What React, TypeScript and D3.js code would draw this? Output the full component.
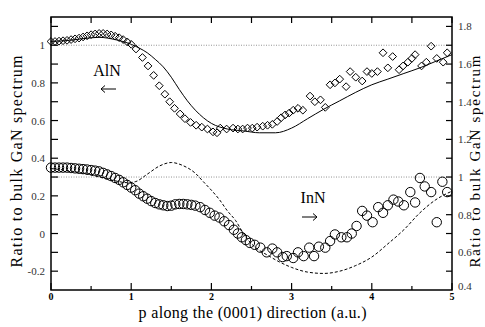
import * as d3 from 'd3';
import { useEffect, useRef } from 'react';

// AlN: measured ratio (diamonds), left axis
const alnP = [0, 0.05, 0.1, 0.15, 0.2, 0.25, 0.3, 0.35, 0.4, 0.45, 0.5, 0.55, 0.6, 0.65, 0.7, 0.75, 0.8, 0.85, 0.9, 0.95, 1.0,
  1.06, 1.14, 1.21, 1.28, 1.35, 1.42, 1.48, 1.54, 1.61, 1.67, 1.74, 1.81, 1.88, 1.95, 2.02, 2.07, 2.11, 2.19, 2.27, 2.33,
  2.39, 2.45, 2.51, 2.57, 2.64, 2.7, 2.76, 2.82, 2.87, 2.92, 2.97, 3.02, 3.08, 3.14, 3.23, 3.29, 3.36, 3.42, 3.48, 3.54,
  3.6, 3.68, 3.73, 3.8, 3.88, 3.94, 4.0, 4.07, 4.14, 4.2, 4.26, 4.34, 4.39, 4.45, 4.5, 4.54, 4.62, 4.68, 4.74, 4.81, 4.89, 4.94];
const alnRatio = [1.02, 1.02, 1.022, 1.024, 1.026, 1.03, 1.034, 1.038, 1.044, 1.05, 1.056, 1.06, 1.063, 1.063, 1.06, 1.055,
  1.048, 1.04, 1.03, 1.018, 1.005, 0.98, 0.935, 0.89, 0.84, 0.785, 0.74, 0.7, 0.665, 0.635, 0.61, 0.59, 0.575, 0.565, 0.555,
  0.54, 0.535, 0.56, 0.555, 0.56, 0.555, 0.555, 0.56, 0.56, 0.565, 0.57, 0.575, 0.58, 0.595, 0.615, 0.63, 0.64, 0.655, 0.665,
  0.655, 0.73, 0.7, 0.71, 0.67, 0.79, 0.8, 0.82, 0.78, 0.86, 0.83, 0.81, 0.86, 0.85, 0.86, 0.96, 0.88, 0.94, 0.87, 0.89, 0.91,
  0.93, 0.95, 0.89, 0.91, 0.995, 0.93, 0.91, 0.96];

// AlN: calculated (solid line), left axis
const alnCalcP = [0, 0.2, 0.4, 0.6, 0.8, 1.0, 1.1, 1.2, 1.3, 1.4, 1.5, 1.6, 1.7, 1.8, 1.9, 2.0, 2.2, 2.4, 2.6, 2.8, 3.0, 3.2,
  3.4, 3.6, 3.8, 4.0, 4.2, 4.4, 4.6, 4.8, 5.0];
const alnCalc = [1.02, 1.025, 1.035, 1.042, 1.03, 1.005, 0.985, 0.96, 0.925, 0.885, 0.83, 0.765, 0.705, 0.655, 0.615, 0.585,
  0.555, 0.545, 0.535, 0.535, 0.56, 0.61, 0.66, 0.705, 0.75, 0.79, 0.82, 0.85, 0.88, 0.915, 0.95];

// InN: measured ratio (circles), right axis
const innP = [0, 0.05, 0.1, 0.15, 0.2, 0.25, 0.3, 0.35, 0.4, 0.45, 0.5, 0.55, 0.6, 0.65, 0.7, 0.75, 0.8, 0.85, 0.9, 0.95, 1.0,
  1.05, 1.1, 1.15, 1.2, 1.25, 1.3, 1.35, 1.4, 1.45, 1.5, 1.55, 1.6, 1.65, 1.7, 1.75, 1.8, 1.86, 1.92, 1.98, 2.04, 2.1, 2.16,
  2.22, 2.28, 2.33, 2.38, 2.43, 2.48, 2.54, 2.61, 2.69, 2.76, 2.82, 2.89, 2.94, 3.02, 3.08, 3.15, 3.22, 3.28, 3.34, 3.42,
  3.48, 3.54, 3.62, 3.69, 3.75, 3.81, 3.88, 3.94, 4.01, 4.08, 4.14, 4.2, 4.27, 4.33, 4.4, 4.48, 4.54, 4.6, 4.66, 4.74, 4.81,
  4.88, 4.94];
const innRatio = [1.05, 1.05, 1.05, 1.05, 1.05, 1.048, 1.046, 1.044, 1.042, 1.04, 1.037, 1.034, 1.03, 1.022, 1.014, 1.005,
  0.995, 0.985, 0.972, 0.958, 0.944, 0.93, 0.912, 0.898, 0.885, 0.872, 0.862, 0.855, 0.85, 0.846, 0.848, 0.855, 0.857, 0.857,
  0.855, 0.852, 0.848, 0.84, 0.825, 0.81, 0.795, 0.785, 0.765, 0.745, 0.72, 0.7, 0.68, 0.665, 0.65, 0.64, 0.625, 0.6, 0.62,
  0.6, 0.575, 0.58, 0.57, 0.6, 0.58, 0.625, 0.58, 0.63, 0.625, 0.66, 0.695, 0.68, 0.68, 0.7, 0.74, 0.82, 0.795, 0.76, 0.84,
  0.81, 0.85, 0.88, 0.87, 0.85, 0.92, 0.865, 0.995, 0.95, 0.92, 0.76, 0.975, 0.92];

// InN: calculated (dashed line), right axis
const innCalcP = [0, 0.2, 0.4, 0.6, 0.8, 0.95, 1.05, 1.2, 1.35, 1.5, 1.65, 1.8, 1.9, 2.0, 2.1, 2.2, 2.3, 2.4, 2.5, 2.6, 2.7,
  2.8, 3.0, 3.2, 3.4, 3.6, 3.8, 4.0, 4.2, 4.4, 4.6, 4.8, 5.0];
const innCalc = [1.045, 1.035, 1.02, 1.0, 0.98, 0.97, 0.975, 1.015, 1.058, 1.077, 1.06, 1.02, 0.975, 0.93, 0.88, 0.82, 0.77,
  0.7, 0.645, 0.61, 0.585, 0.56, 0.52, 0.495, 0.488, 0.5, 0.53, 0.575, 0.645, 0.72, 0.81, 0.88, 0.925];

const xTicks = [0, 1, 2, 3, 4, 5];
const leftTicks = [-0.2, 0, 0.2, 0.4, 0.6, 0.8, 1];
const rightTicks = [0.4, 0.6, 0.8, 1, 1.2, 1.4, 1.6, 1.8];

const FONT = "'Liberation Serif', 'DejaVu Serif', 'Times New Roman', serif";

const App = () => {
  const ref = useRef<SVGSVGElement>(null);

  useEffect(() => {
    const W = 485;
    const H = 327;
    const margin = { top: 17, right: 33, bottom: 37, left: 51 };
    const width = W - margin.left - margin.right;
    const height = H - margin.top - margin.bottom;

    const root = d3.select(ref.current);
    root.selectAll('*').remove();
    const svg = root.append('g')
      .attr('transform', `translate(${margin.left},${margin.top})`)
      .attr('font-family', FONT);

    const x = d3.scaleLinear().domain([0, 5]).range([0, width]);
    const yL = d3.scaleLinear().domain([-0.3, 1.15]).range([height, 0]);
    const yR = d3.scaleLinear().domain([0.4, 1.85]).range([height, 0]);

    // dotted reference lines
    [yL(1), yR(1)].forEach((yy) => {
      svg.append('line')
        .attr('x1', 0).attr('x2', width)
        .attr('y1', yy).attr('y2', yy)
        .attr('stroke', '#777').attr('stroke-width', 0.8).attr('stroke-dasharray', '1,1.5');
    });

    // calculated curves
    const alnLine = d3.line<number>().x((d, i) => x(alnCalcP[i])).y((d) => yL(d)).curve(d3.curveMonotoneX);
    svg.append('path').attr('d', alnLine(alnCalc)).attr('fill', 'none').attr('stroke', '#000').attr('stroke-width', 1);

    const innLine = d3.line<number>().x((d, i) => x(innCalcP[i])).y((d) => yR(d)).curve(d3.curveMonotoneX);
    svg.append('path').attr('d', innLine(innCalc)).attr('fill', 'none').attr('stroke', '#000')
      .attr('stroke-width', 1).attr('stroke-dasharray', '3,2');

    // diamonds
    svg.selectAll('.aln')
      .data(alnRatio)
      .enter()
      .append('path')
      .attr('d', d3.symbol().type(d3.symbolDiamond2).size(38))
      .attr('transform', (d, i) => `translate(${x(alnP[i])},${yL(d)})`)
      .attr('fill', 'none').attr('stroke', '#000').attr('stroke-width', 1);

    // circles
    svg.selectAll('.inn')
      .data(innRatio)
      .enter()
      .append('circle')
      .attr('cx', (d, i) => x(innP[i]))
      .attr('cy', (d) => yR(d))
      .attr('r', 4.7)
      .attr('fill', 'none').attr('stroke', '#000').attr('stroke-width', 1);

    // frame
    svg.append('rect').attr('width', width).attr('height', height)
      .attr('fill', 'none').attr('stroke', '#000').attr('stroke-width', 1.5);

    // bottom + top ticks
    d3.range(0, 5.01, 0.5).forEach((v) => {
      const major = Math.abs(v - Math.round(v)) < 1e-6;
      svg.append('line').attr('x1', x(v)).attr('x2', x(v)).attr('y1', height).attr('y2', height - (major ? 7 : 4))
        .attr('stroke', '#000').attr('stroke-width', 1.2);
      svg.append('line').attr('x1', x(v)).attr('x2', x(v)).attr('y1', 0).attr('y2', 6)
        .attr('stroke', '#000').attr('stroke-width', 1.2);
    });
    xTicks.forEach((v) => {
      svg.append('text').attr('x', x(v)).attr('y', height + 10)
        .attr('text-anchor', 'middle').attr('fill', '#000')
        .attr('font-size', 10).attr('font-weight', 'bold')
        .text(String(v));
    });

    // left ticks
    d3.range(-0.2, 1.11, 0.1).forEach((v) => {
      svg.append('line').attr('x1', 0).attr('x2', 7).attr('y1', yL(v)).attr('y2', yL(v))
        .attr('stroke', '#000').attr('stroke-width', 1.2);
    });
    leftTicks.forEach((v) => {
      svg.append('text').attr('x', -6).attr('y', yL(v) + 4)
        .attr('text-anchor', 'end').attr('fill', '#333')
        .attr('font-size', 11)
        .text(String(v));
    });

    // right ticks
    d3.range(0.5, 1.81, 0.1).forEach((v) => {
      svg.append('line').attr('x1', width).attr('x2', width - 6).attr('y1', yR(v)).attr('y2', yR(v))
        .attr('stroke', '#000').attr('stroke-width', 1.2);
    });
    rightTicks.forEach((v) => {
      svg.append('text').attr('x', width + 6).attr('y', yR(v) + (v === 0.4 ? 0 : 4))
        .attr('text-anchor', 'start').attr('fill', '#333')
        .attr('font-size', 11)
        .text(String(v));
    });

    // axis titles
    svg.append('text')
      .attr('x', width / 2 + 1).attr('y', height + 28)
      .attr('text-anchor', 'middle')
      .attr('font-size', 16)
      .attr('textLength', 228).attr('lengthAdjust', 'spacing')
      .text('p along the (0001) direction (a.u.)');

    svg.append('text')
      .attr('transform', 'rotate(-90)')
      .attr('x', -(height / 2 + 8)).attr('y', -29)
      .attr('text-anchor', 'middle')
      .attr('font-size', 16)
      .attr('textLength', 212).attr('lengthAdjust', 'spacing')
      .text('Ratio to bulk GaN spectrum');

    svg.append('text')
      .attr('transform', 'rotate(-90)')
      .attr('x', -(height / 2 + 8)).attr('y', width + 28)
      .attr('text-anchor', 'middle')
      .attr('font-size', 15)
      .attr('textLength', 212).attr('lengthAdjust', 'spacing')
      .text('Ratio to bulk GaN spectrum');

    // annotations
    svg.append('text').attr('x', 56).attr('y', 59).attr('text-anchor', 'middle')
      .attr('font-size', 16).text('AlN');
    svg.append('text').attr('x', 262).attr('y', 186).attr('text-anchor', 'middle')
      .attr('font-size', 16).text('InN');

    // arrows drawn as paths (left for AlN, right for InN)
    const arrow = (x0: number, x1: number, yy: number) => {
      const dir = x1 > x0 ? 1 : -1;
      svg.append('path')
        .attr('d', `M${x0},${yy}H${x1}M${x1 - dir * 4},${yy - 3.5}L${x1},${yy}L${x1 - dir * 4},${yy + 3.5}`)
        .attr('fill', 'none').attr('stroke', '#000').attr('stroke-width', 1);
    };
    arrow(65, 50, 72);
    arrow(251, 266, 200);
  }, []);

  return (
    <svg
      ref={ref}
      width={485}
      height={327}
      style={{ position: 'absolute', left: 0, top: 0, background: '#fff' }}
    />
  );
};

export default App;
